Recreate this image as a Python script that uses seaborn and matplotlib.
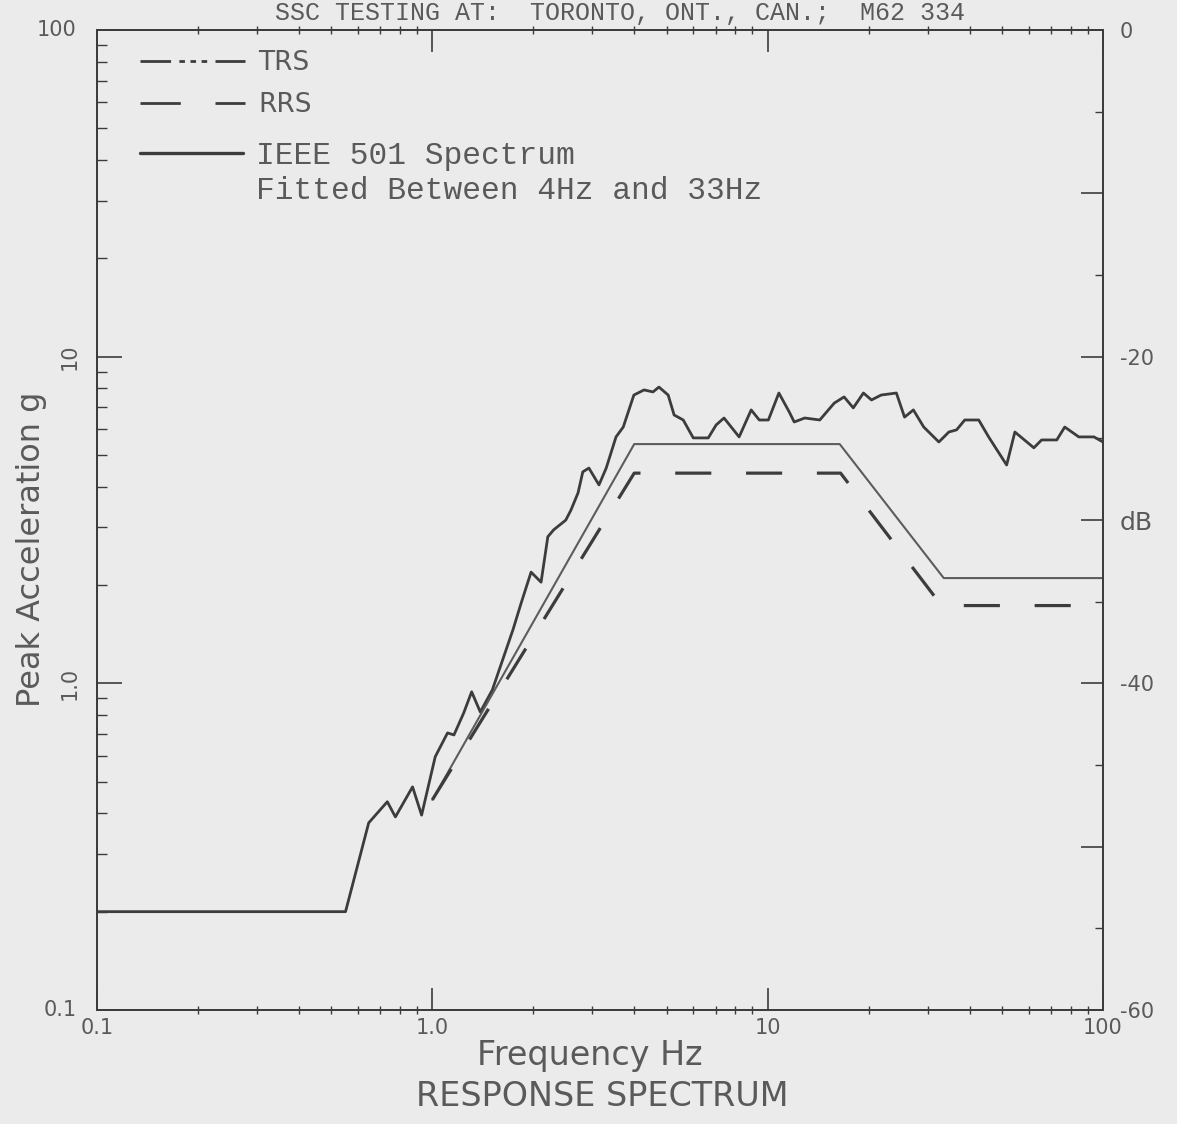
import numpy as np
import pandas as pd
import matplotlib
matplotlib.use("Agg")
import matplotlib.pyplot as plt
import matplotlib.transforms as mtrans
from matplotlib.lines import Line2D
from matplotlib.ticker import FixedLocator, NullFormatter, FixedFormatter
import seaborn as sns

# ---------------- data ----------------
trs_freq = [0.1, 0.551, 0.646, 0.734, 0.776, 0.873, 0.929, 1.02, 1.11, 1.16, 1.24,
            1.31, 1.39, 1.51, 1.74, 1.84, 1.97, 2.11, 2.21, 2.30, 2.50, 2.59, 2.72,
            2.81, 2.93, 3.14, 3.30, 3.53, 3.71, 3.99, 4.28, 4.55, 4.74, 5.05, 5.26,
            5.60, 6.00, 6.65, 7.02, 7.41, 8.22, 8.93, 9.44, 10.05, 10.8, 11.6, 12.0,
            12.9, 14.3, 15.8, 16.9, 18.0, 19.3, 20.4, 21.8, 24.2, 25.6, 27.2, 29.2,
            32.4, 34.7, 36.6, 38.7, 42.6, 45.6, 51.6, 54.6, 62.2, 65.6, 72.8, 76.9,
            84.7, 94.0, 100.0]
trs_acc = [0.200, 0.200, 0.374, 0.434, 0.390, 0.482, 0.395, 0.596, 0.705, 0.695, 0.811,
           0.942, 0.817, 0.955, 1.46, 1.76, 2.19, 2.04, 2.81, 2.95, 3.16, 3.39, 3.83,
           4.44, 4.56, 4.05, 4.56, 5.68, 6.09, 7.63, 7.91, 7.80, 8.07, 7.63, 6.63,
           6.40, 5.64, 5.64, 6.18, 6.49, 5.68, 6.87, 6.40, 6.40, 7.74, 6.77, 6.31,
           6.49, 6.40, 7.21, 7.53, 6.97, 7.74, 7.37, 7.63, 7.74, 6.53, 6.87, 6.09,
           5.48, 5.88, 5.97, 6.40, 6.40, 5.68, 4.66, 5.88, 5.26, 5.56, 5.56, 6.09,
           5.68, 5.68, 5.48]

ieee_freq = [1.0, 4.0, 16.4, 33.5, 100.0]
ieee_acc = [0.44, 5.4, 5.4, 2.10, 2.10]

rrs_freq = [1.0, 4.0, 16.5, 33.0, 100.0]
rrs_acc = [0.44, 4.4, 4.4, 1.73, 1.73]

x_major = [0.1, 1.0, 10.0, 100.0]
x_major_labels = ["0.1", "1.0", "10", "100"]
y_major = [0.1, 1.0, 10.0, 100.0]
y_major_labels = ["0.1", "1.0", "10", "100"]
db_ticks = [-60, -50, -40, -30, -20, -10, 0]
db_labels = ["-60", "", "-40", "dB", "-20", "", "0"]

legend_labels = ["TRS", "RRS", "IEEE 501 Spectrum", "Fitted Between 4Hz and 33Hz"]
title_text = "SSC TESTING AT:  TORONTO, ONT., CAN.;  M62 334"
xlabel_text = "Frequency Hz"
ylabel_text = "Peak Acceleration g"
subtitle_text = "RESPONSE SPECTRUM"

# ---------------- style ----------------
sns.set_theme(style="ticks")
BG = "#ebebeb"
INK = "#3c3c3c"
TXT = "#5a5a5a"
plt.rcParams["font.family"] = ["DejaVu Sans"]
plt.rcParams["lines.scale_dashes"] = False
plt.rcParams["axes.edgecolor"] = INK
plt.rcParams["xtick.color"] = INK
plt.rcParams["ytick.color"] = INK

W, H = 1177, 1124
fig = plt.figure(figsize=(W / 100, H / 100), dpi=100, facecolor=BG)
L, R, T, B = 97, 1103, 30, 1010
ax = fig.add_axes([L / W, 1 - B / H, (R - L) / W, (B - T) / H])
ax.set_facecolor(BG)

df_trs = pd.DataFrame({"freq": trs_freq, "acc": trs_acc})
df_ieee = pd.DataFrame({"freq": ieee_freq, "acc": ieee_acc})
df_rrs = pd.DataFrame({"freq": rrs_freq, "acc": rrs_acc})

sns.lineplot(data=df_trs, x="freq", y="acc", ax=ax, color=INK, linewidth=2.0,
             estimator=None, sort=False)
sns.lineplot(data=df_ieee, x="freq", y="acc", ax=ax, color="#5c5c5c", linewidth=1.5,
             estimator=None, sort=False)
sns.lineplot(data=df_rrs, x="freq", y="acc", ax=ax, color=INK, linewidth=2.3,
             estimator=None, sort=False)
ax.lines[-1].set_linestyle((0, (26, 25)))

ax.set_xscale("log")
ax.set_yscale("log")
ax.set_xlim(0.1, 100)
ax.set_ylim(0.1, 100)
for s in ax.spines.values():
    s.set_linewidth(1.3)
    s.set_color(INK)

# x ticks
ax.xaxis.set_major_locator(FixedLocator(x_major))
ax.xaxis.set_major_formatter(FixedFormatter(x_major_labels))
ax.xaxis.set_minor_locator(FixedLocator(
    [m * d for d in (0.1, 1, 10) for m in range(2, 10)]))
ax.xaxis.set_minor_formatter(NullFormatter())
ax.tick_params(axis="x", which="major", direction="in", length=16, width=1.2,
               top=True, bottom=True, labelsize=15, labelcolor=TXT, pad=6)
ax.tick_params(axis="x", which="minor", direction="inout", length=6, width=1.0,
               top=True, bottom=True)

# y ticks (labels drawn as text so two of them can be rotated like the plotter output)
ax.yaxis.set_major_locator(FixedLocator(y_major))
ax.yaxis.set_major_formatter(NullFormatter())
ax.yaxis.set_minor_locator(FixedLocator(
    [m * d for d in (0.1, 1, 10) for m in range(2, 10)]))
ax.yaxis.set_minor_formatter(NullFormatter())
ax.tick_params(axis="y", which="major", direction="in", length=18, width=1.2,
               left=True, right=False)
ax.tick_params(axis="y", which="minor", direction="in", length=7, width=1.0,
               left=True, right=False)
trans = mtrans.blended_transform_factory(ax.transAxes, ax.transData)
for val, lab in zip(y_major, y_major_labels):
    if lab in ("10", "1.0"):
        ax.text(-0.027, val, lab, transform=trans, rotation=90, ha="center",
                va="center", fontsize=15, color=TXT)
    else:
        ax.text(-0.020, val, lab, transform=trans, ha="right", va="center",
                fontsize=15, color=TXT)

# right dB axis
ax2 = ax.twinx()
ax2.set_ylim(-60, 0)
ax2.yaxis.set_major_locator(FixedLocator(db_ticks))
ax2.yaxis.set_major_formatter(FixedFormatter(db_labels))
ax2.yaxis.set_minor_locator(FixedLocator(list(range(-55, 0, 10))))
ax2.tick_params(axis="y", which="major", direction="in", length=16, width=1.2,
                labelsize=15, labelcolor=TXT, pad=12)
ax2.tick_params(axis="y", which="minor", direction="in", length=6, width=1.0)
for s in ax2.spines.values():
    s.set_linewidth(1.3)
    s.set_color(INK)
for lbl in ax2.get_yticklabels():
    if lbl.get_text() == "dB":
        lbl.set_fontsize(18)

# axis labels
ax.set_xlabel(xlabel_text, fontsize=24, color=TXT)
ax.xaxis.set_label_coords(0.49, -0.030)
ax.set_ylabel(ylabel_text, fontsize=23, color=TXT)
ax.yaxis.set_label_coords(-0.050, 0.47)
fig.text(620 / W, 1 - 13 / H, title_text, ha="center", va="center",
         fontsize=18, color=TXT, family="Liberation Mono")
fig.text(602 / W, 1 - 1097 / H, subtitle_text, ha="center", va="center",
         fontsize=24, color=TXT)

# legends
h_trs = Line2D([], [], color=INK, linewidth=2.0,
               linestyle=(0, (22, 6, 4, 4, 4, 4, 4, 6, 30, 0)))
h_rrs = Line2D([], [], color=INK, linewidth=2.0, linestyle=(0, (29, 25, 40, 0)))
h_ieee = Line2D([], [], color=INK, linewidth=2.4)
h_blank = Line2D([], [], color="none", linewidth=0)

leg1 = ax.legend([h_trs, h_rrs], legend_labels[:2], loc="upper left",
                 bbox_to_anchor=((140 - L) / (R - L), 1 - (50 - T) / (B - T)),
                 frameon=False, fontsize=19, handlelength=3.98, handletextpad=0.49,
                 labelspacing=0.6, borderpad=0, borderaxespad=0)
for t in leg1.get_texts():
    t.set_color(TXT)
ax.add_artist(leg1)
leg2 = ax.legend([h_ieee, h_blank], legend_labels[2:], loc="upper left",
                 bbox_to_anchor=((140 - L) / (R - L), 1 - (141 - T) / (B - T)),
                 frameon=False, prop={"family": "Liberation Mono", "size": 22.5},
                 handlelength=3.3, handletextpad=0.40, labelspacing=0.15,
                 borderpad=0, borderaxespad=0)
for t in leg2.get_texts():
    t.set_color(TXT)

fig.savefig("out.png", dpi=100, facecolor=BG)
